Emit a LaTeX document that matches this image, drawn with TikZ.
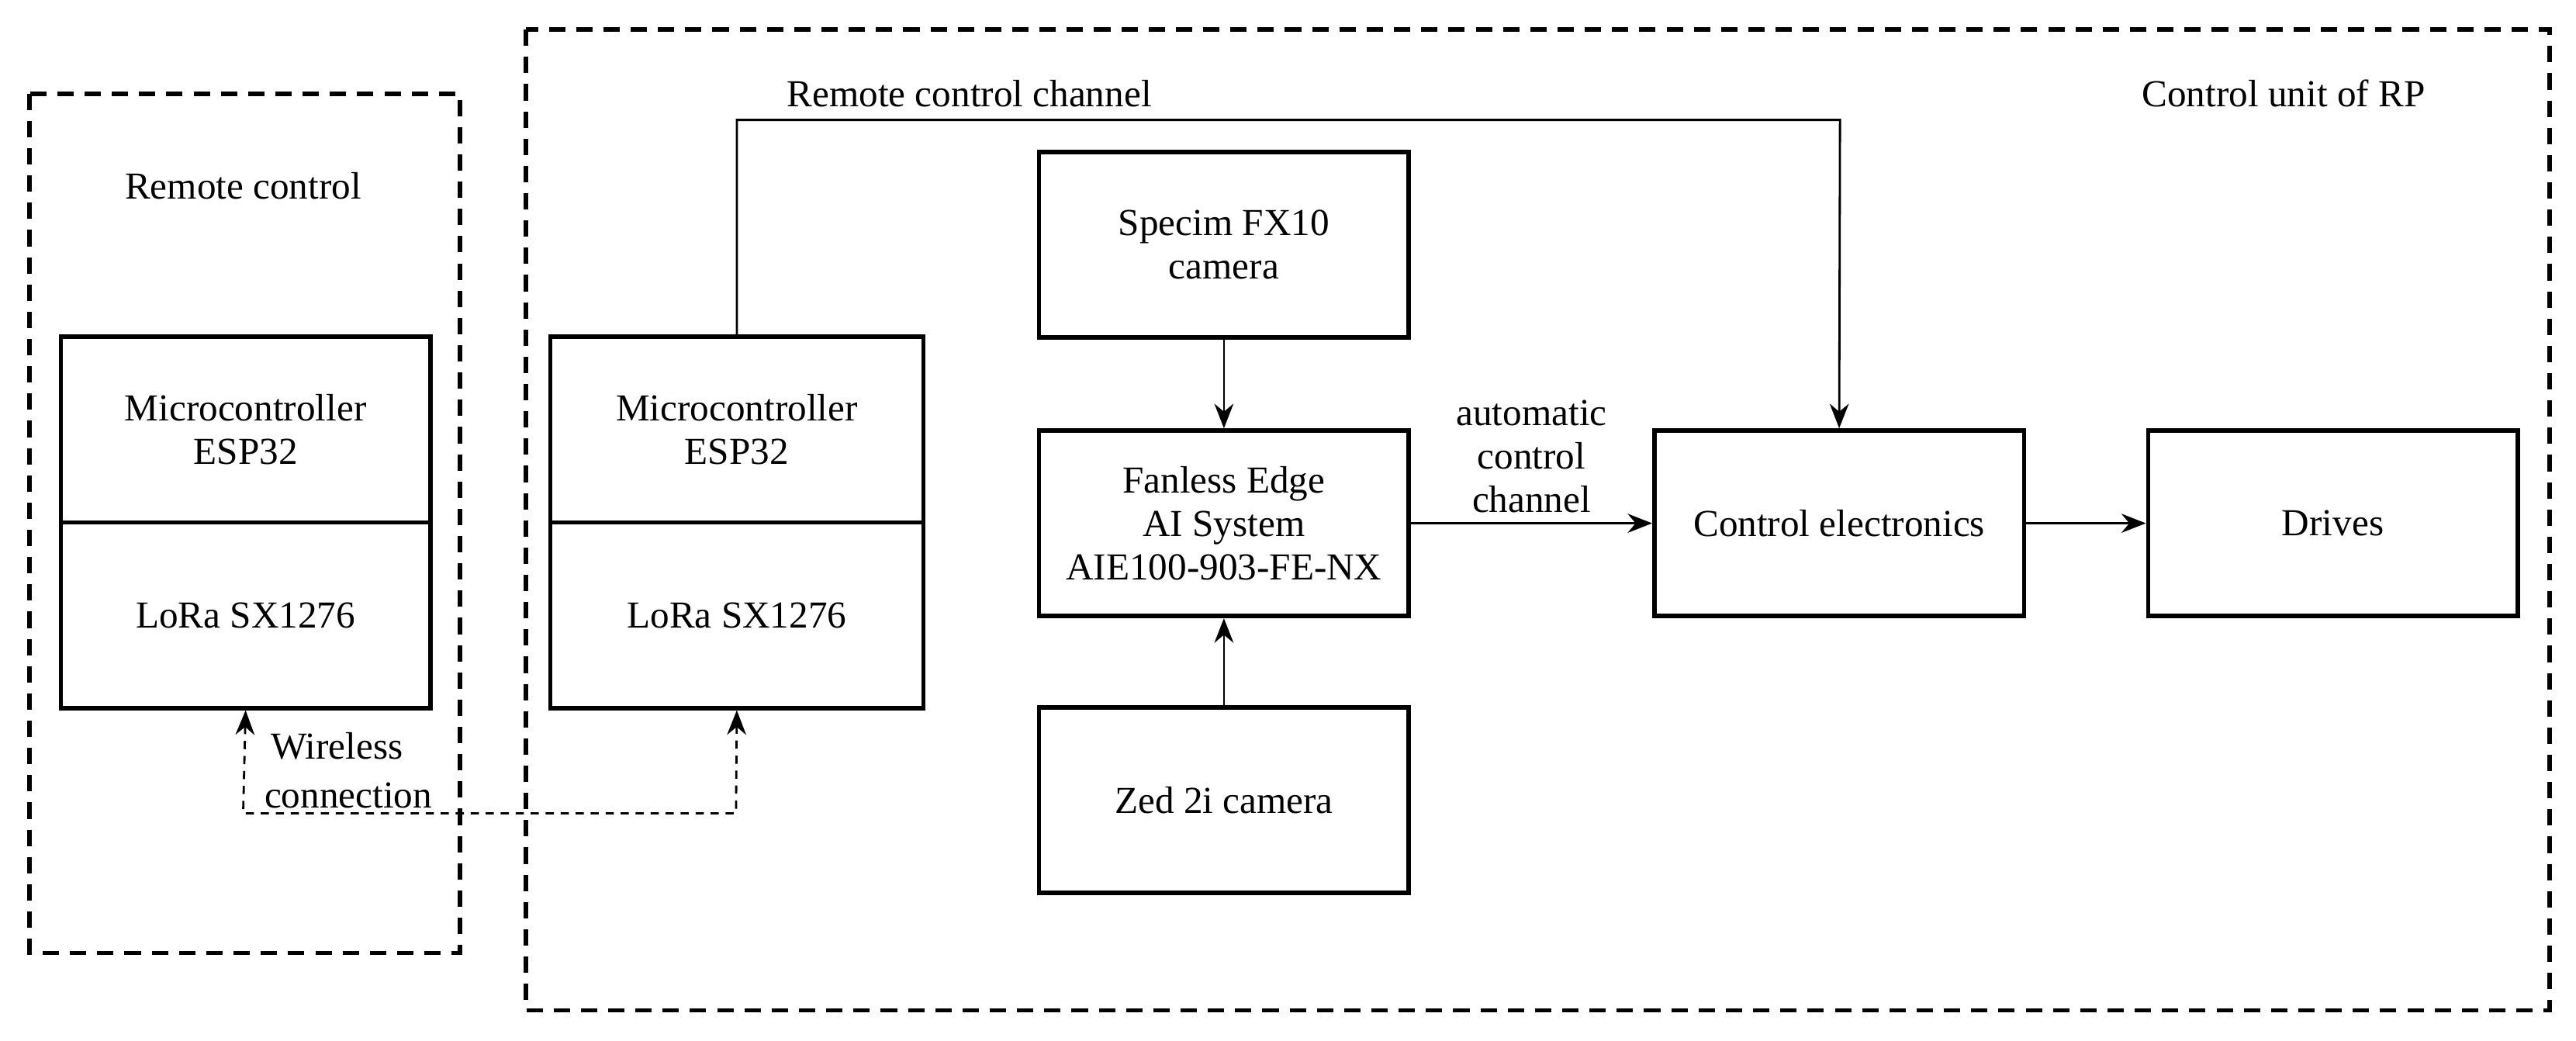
\documentclass[tikz,border=0pt]{standalone}
\usepackage{fontspec}
\setmainfont{Liberation Serif}
\usetikzlibrary{arrows.meta}
\begin{document}
\begin{tikzpicture}[x=0.2118mm,y=-0.2118mm,
  font=\fontsize{14}{16}\selectfont,
  blk/.style={draw,line width=1.6pt,minimum width=47.65mm,minimum height=23.93mm},
  frame/.style={draw,line width=1.6pt,dash pattern=on 6pt off 4pt},
  con/.style={line width=0.8pt,-{Stealth[length=9pt,width=7pt]}},
  wl/.style={line width=0.8pt,dash pattern=on 3pt off 2.5pt,{Stealth[length=9pt,width=7pt]}-{Stealth[length=9pt,width=7pt]}}]
\useasboundingbox (0,0) rectangle (1568,633.6);
% frames
\draw[frame] (18,57) rectangle (280,580);
\draw[frame] (320,18) rectangle (1552,615);
\node (rc) at (148,113) {Remote control};
\node (cu) at (1390,57) {Control unit of RP};
% remote control box
\node[blk] (mc1) at (149.5,261.5) {};
\node[blk] (lo1) at (149.5,374.5) {};
\node[align=center] at (mc1) {Microcontroller\\ESP32};
\node at (lo1) {LoRa SX1276};
% RP boxes
\node[blk,minimum width=48.08mm] (mc2) at (448.5,261.5) {};
\node[blk,minimum width=48.08mm] (lo2) at (448.5,374.5) {};
\node[align=center] at (mc2) {Microcontroller\\ESP32};
\node at (lo2) {LoRa SX1276};
\node[blk,align=center] (sp) at (745,149) {Specim FX10\\camera};
\node[blk,align=center] (ai) at (745,318.5) {Fanless Edge\\AI System\\AIE100-903-FE-NX};
\node[blk] (zed) at (745,487) {Zed 2i camera};
\node[blk] (ce) at (1119.5,318.5) {Control electronics};
\node[blk] (dr) at (1420,318.5) {Drives};
% connectors
\draw[con] (sp) -- (ai);
\draw[con] (zed) -- (ai);
\draw[con] (ai) -- node[above,align=center] {automatic\\control\\channel} (ce);
\draw[con] (ce) -- (dr);
\draw[con] (mc2.north) |- (1120,73) -- (ce.north);
\node[anchor=south] (rcc) at (590,71) {Remote control channel};
\coordinate (w1) at (148,495);
\coordinate (w2) at (448,495);
\draw[wl] (lo1.south) -- (w1) -- (w2) -- (lo2.south);
\node[fill=white,inner sep=1pt] (wt1) at (205,454) {Wireless};
\node[fill=white,inner sep=1pt] (wt2) at (212,484) {connection};
\end{tikzpicture}
\end{document}
